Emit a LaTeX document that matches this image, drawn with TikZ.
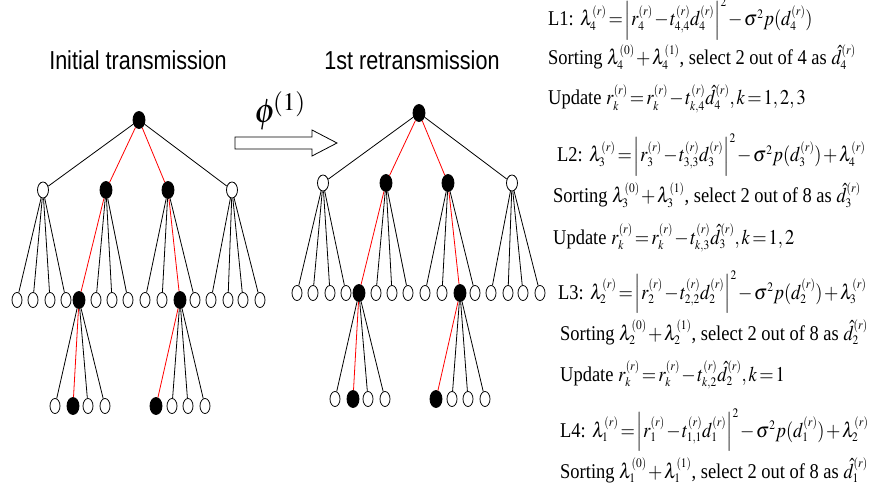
\documentclass[tikz,border=0pt]{standalone}
\usepackage{mathptmx}
\usepackage[no-math]{fontspec}
\setmainfont{Liberation Serif}
\newfontfamily\headfont{Liberation Sans}[FakeStretch=0.83]
\usetikzlibrary{shapes.geometric}
\DeclareMathSizes{21}{21}{13}{10}
\newcommand{\eqsize}{\fontsize{21}{24}\selectfont\thickmuskip=2mu\medmuskip=1.5mu}
\newcommand{\eqtext}[1]{\scalebox{0.88}[1]{#1}}

\begin{document}
\begin{tikzpicture}[x=1pt, y=-1pt,
  hollow/.style={ellipse, draw, fill=white, line width=0.8pt, inner sep=0pt,
                 minimum width=10pt, minimum height=15pt},
  chosen/.style={hollow, fill=black, minimum width=12pt, minimum height=17pt},
  link/.style={line width=0.8pt},
  picked/.style={link, red},
  title/.style={font=\headfont\fontsize{26}{28}\selectfont},
  eqline/.style={anchor=base west, inner sep=0pt, font=\eqsize}
]
\useasboundingbox (0,0) rectangle (875,497);

% ==================
% Titles
% ==================
\node[title] (tinit) at (138,60) {Initial transmission};
\node[title] (tretx) at (412,60) {1st retransmission};

% ==================
% Trees (same tree twice)
% ==================
\foreach \tr/\dx/\dy in {a/0/0, b/280/-7} {
\begin{scope}[shift={(\dx,\dy)}]
% root and depth 1
\node[chosen] (\tr-r) at (139,120) {};
\node[hollow, minimum width=11pt, minimum height=16pt] (\tr-1) at (43,190) {};
\node[chosen] (\tr-2) at (106,190) {};
\node[chosen] (\tr-3) at (168,190) {};
\node[hollow, minimum width=11pt, minimum height=16pt] (\tr-4) at (232,190) {};
\draw[link] (\tr-r) -- (\tr-1);
\draw[picked] (\tr-r) -- (\tr-2);
\draw[picked] (\tr-r) -- (\tr-3);
\draw[link] (\tr-r) -- (\tr-4);

% depth 2
\foreach \x/\s/\p/\e [count=\i] in {17/hollow/1/link, 33/hollow/1/link,
    50/hollow/1/link, 66/hollow/1/link, 79/chosen/2/picked, 96/hollow/2/link,
    112/hollow/2/link, 128/hollow/2/link, 145/hollow/3/link, 162/hollow/3/link,
    180/chosen/3/picked, 195/hollow/3/link, 211/hollow/4/link,
    228/hollow/4/link, 243/hollow/4/link, 260/hollow/4/link} {
  \node[\s] (\tr-m\i) at (\x,300) {};
  \draw[\e] (\tr-\p) -- (\tr-m\i);
}

% depth 3
\foreach \x/\s/\p/\e [count=\i] in {55/hollow/5/link, 73/chosen/5/picked,
    88/hollow/5/link, 105/hollow/5/link, 156/chosen/11/picked,
    172/hollow/11/link, 188/hollow/11/link, 205/hollow/11/link} {
  \node[\s] (\tr-b\i) at (\x,406) {};
  \draw[\e] (\tr-m\p) -- (\tr-b\i);
}
\end{scope}
}

% ==================
% Arrow between the trees
% ==================
\draw[link] (235,137) -- (312,137) -- (312,130) -- (337,143) -- (312,156)
  -- (312,149) -- (235,149) -- cycle;
\node (phi) at (280,111) {\fontsize{34}{36}\selectfont$\phi^{\!(1)}$};

% ==================
% Layer steps
% ==================
\node[eqline] (l1) at (548,26) {\eqtext{L1: $\lambda_4^{(r)} = \left| r_4^{(r)} - t_{4,4}^{(r)} d_4^{(r)} \right|^2 - \sigma^2 p(d_4^{(r)})$}};
\node[eqline] (s1) at (548,65) {\eqtext{Sorting $\lambda_4^{(0)} + \lambda_4^{(1)}$, select 2 out of 4 as $\hat{d}_4^{(r)}$}};
\node[eqline] (u1) at (548,105) {\eqtext{Update $r_k^{(r)} = r_k^{(r)} - t_{k,4}^{(r)} \hat{d}_4^{(r)}, k=1,2,3$}};

\node[eqline] (l2) at (557,162) {\eqtext{L2: $\lambda_3^{(r)} = \left| r_3^{(r)} - t_{3,3}^{(r)} d_3^{(r)} \right|^2 - \sigma^2 p(d_3^{(r)}) + \lambda_4^{(r)}$}};
\node[eqline] (s2) at (553,203) {\eqtext{Sorting $\lambda_3^{(0)} + \lambda_3^{(1)}$, select 2 out of 8 as $\hat{d}_3^{(r)}$}};
\node[eqline] (u2) at (553,244) {\eqtext{Update $r_k^{(r)} = r_k^{(r)} - t_{k,3}^{(r)} \hat{d}_3^{(r)}, k=1,2$}};

\node[eqline] (l3) at (558,299) {\eqtext{L3: $\lambda_2^{(r)} = \left| r_2^{(r)} - t_{2,2}^{(r)} d_2^{(r)} \right|^2 - \sigma^2 p(d_2^{(r)}) + \lambda_3^{(r)}$}};
\node[eqline] (s3) at (560,340) {\eqtext{Sorting $\lambda_2^{(0)} + \lambda_2^{(1)}$, select 2 out of 8 as $\hat{d}_2^{(r)}$}};
\node[eqline] (u3) at (560,381) {\eqtext{Update $r_k^{(r)} = r_k^{(r)} - t_{k,2}^{(r)} \hat{d}_2^{(r)}, k=1$}};

\node[eqline] (l4) at (560,437) {\eqtext{L4: $\lambda_1^{(r)} = \left| r_1^{(r)} - t_{1,1}^{(r)} d_1^{(r)} \right|^2 - \sigma^2 p(d_1^{(r)}) + \lambda_2^{(r)}$}};
\node[eqline] (s4) at (560,478) {\eqtext{Sorting $\lambda_1^{(0)} + \lambda_1^{(1)}$, select 2 out of 8 as $\hat{d}_1^{(r)}$}};
\end{tikzpicture}
\end{document}
